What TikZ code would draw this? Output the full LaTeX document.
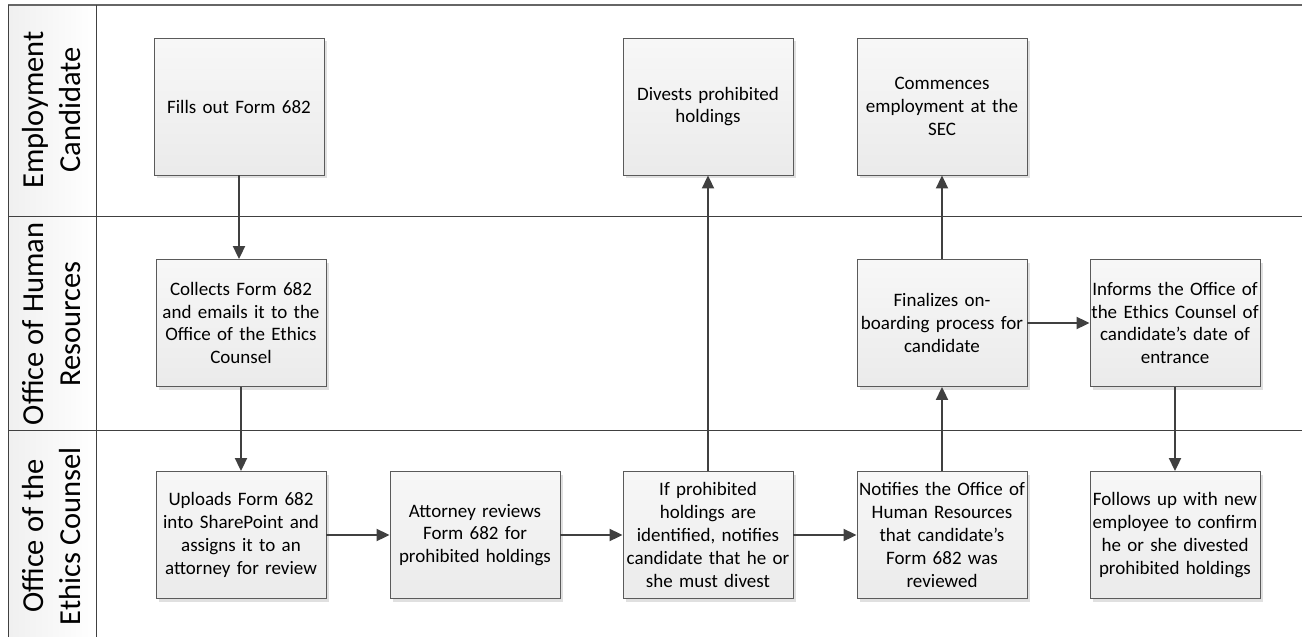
\documentclass[tikz,border=0pt]{standalone}
\usepackage{fontspec}
\setmainfont{Carlito}
\usetikzlibrary{arrows.meta,shadows}
\definecolor{boxline}{HTML}{5A5A5A}
\definecolor{arrowc}{HTML}{404040}
\definecolor{laneline}{HTML}{404040}
\begin{document}
\begin{tikzpicture}[x=1pt,y=-1pt,
  stepbox/.style={draw=boxline, line width=0.9pt, top color=white!97!black, bottom color=white!92!black,
    minimum width=170pt, text width=170pt, align=center, inner sep=0pt,
    font=\fontsize{19}{22.8}\selectfont,
    drop shadow={shadow xshift=3pt, shadow yshift=-3pt, fill=black!12, opacity=1}},
  tallbox/.style={stepbox, minimum height=137pt},
  midbox/.style={stepbox, minimum height=127pt},
  flow/.style={draw=arrowc, line width=2pt, -{Triangle[length=13pt,width=12pt]}},
  lanelabel/.style={rotate=90, align=center, font=\fontsize{30.5}{37}\selectfont, text=black},
  lanesep/.style={draw=laneline, line width=0.8pt}
]
\useasboundingbox (0,0) rectangle (1302,637);
% lane frame
\shade[left color=black!6, right color=white] (8,5) rectangle (96,640);
\draw[draw=black!60, line width=2pt] (8,5) -- (1302,5);
\draw[lanesep] (8,5) -- (8,640);
\draw[lanesep] (96,5) -- (96,640);
\draw[lanesep] (8,216) -- (1302,216);
\draw[lanesep] (8,430) -- (1302,430);
\node[lanelabel] (l1) at (52,110) {Employment\\Candidate};
\node[lanelabel] (l2) at (52,324) {Office of Human\\Resources};
\node[lanelabel] (l3) at (52,536) {Office of the\\Ethics Counsel};
% boxes
\node[tallbox] (fill) at (239,106.5) {Fills out Form 682};
\node[tallbox] (divest) at (708,106.5) {Divests prohibited\\holdings};
\node[tallbox] (commence) at (942,106.5) {Commences\\employment at the\\SEC};
\node[midbox] (collect) at (241,323) {Collects Form 682\\and emails it to the\\Office of the Ethics\\Counsel};
\node[midbox] (final) at (942,323) {Finalizes on-\\boarding process for\\candidate};
\node[midbox] (inform) at (1175,323) {Informs the Office of\\the Ethics Counsel of\\candidate’s date of\\entrance};
\node[midbox] (upload) at (241,535) {Uploads Form 682\\into SharePoint and\\assigns it to an\\attorney for review};
\node[midbox] (attorney) at (475,535) {Attorney reviews\\Form 682 for\\prohibited holdings};
\node[midbox] (ifprohib) at (708,535) {If prohibited\\holdings are\\identified, notifies\\candidate that he or\\she must divest};
\node[midbox] (notify) at (942,535) {Notifies the Office of\\Human Resources\\that candidate’s\\Form 682 was\\reviewed};
\node[midbox] (follow) at (1175,535) {Follows up with new\\employee to confirm\\he or she divested\\prohibited holdings};
% connectors
\draw[flow] (fill) -- (fill |- collect.north);
\draw[flow] (collect) -- (collect |- upload.north);
\draw[flow] (upload) -- (attorney);
\draw[flow] (attorney) -- (ifprohib);
\draw[flow] (ifprohib) -- (notify);
\draw[flow] (ifprohib) -- (divest);
\draw[flow] (notify) -- (final);
\draw[flow] (final) -- (commence);
\draw[flow] (final) -- (inform);
\draw[flow] (inform) -- (follow);
\end{tikzpicture}
\end{document}
